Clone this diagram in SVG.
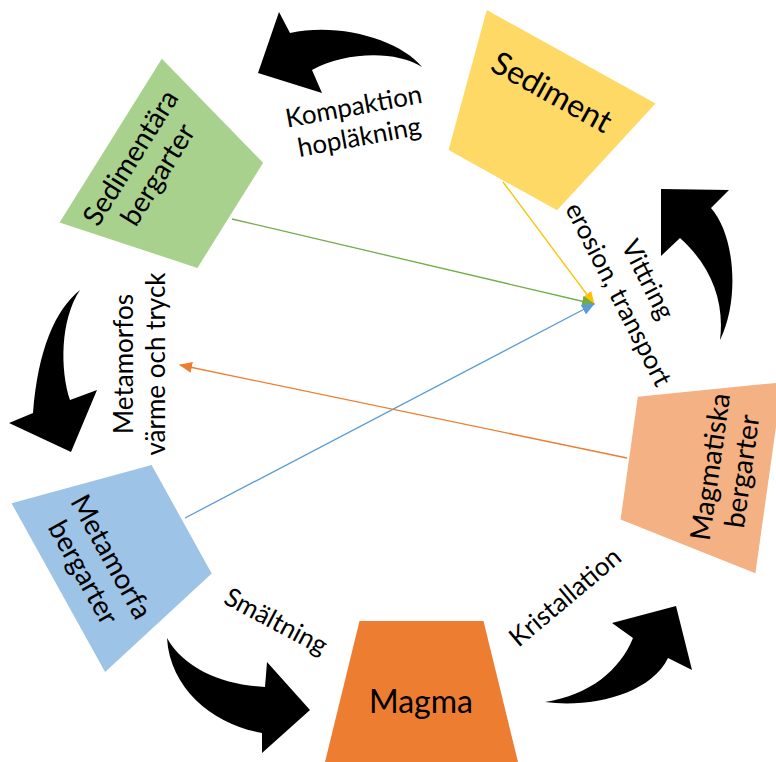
<svg xmlns="http://www.w3.org/2000/svg" width="776" height="762" viewBox="0 0 776 762">
<style>
text{font-family:Lato,"Liberation Sans",sans-serif;fill:#000;text-anchor:middle}
.node{font-size:28px}
.big{font-size:32px}
.lbl{font-size:26px}
.conn{fill:none;stroke-width:1.3}
.blk{fill:#000}
</style>
<defs>
<marker id="mY" markerUnits="userSpaceOnUse" markerWidth="13" markerHeight="11" refX="12" refY="5.5" orient="auto"><path d="M0,0 L13,5.5 L0,11 z" fill="#FFC000"/></marker>
<marker id="mG" markerUnits="userSpaceOnUse" markerWidth="13" markerHeight="11" refX="12" refY="5.5" orient="auto"><path d="M0,0 L13,5.5 L0,11 z" fill="#70AD47"/></marker>
<marker id="mB" markerUnits="userSpaceOnUse" markerWidth="13" markerHeight="11" refX="12" refY="5.5" orient="auto"><path d="M0,0 L13,5.5 L0,11 z" fill="#5B9BD5"/></marker>
<marker id="mO" markerUnits="userSpaceOnUse" markerWidth="13" markerHeight="11" refX="12" refY="5.5" orient="auto"><path d="M0,0 L13,5.5 L0,11 z" fill="#ED7D31"/></marker>
<polygon id="trap" points="-62,-70.5 62,-70.5 96.5,70.5 -96.5,70.5"/>
</defs>
<rect width="776" height="762" fill="#fff"/>

<g id="node-sediment">
<use href="#trap" transform="translate(537,118.5) rotate(-151)" fill="#FFD966"/>
<text class="big" transform="translate(552,92) rotate(29)" dy="0.35em">Sediment</text>
</g>
<g id="node-sedimentara">
<use href="#trap" transform="translate(170.5,178) rotate(122)" fill="#A9D18E"/>
<g transform="translate(144,166) rotate(-58)">
<text class="node" y="-16" dy="0.35em">Sedimentära</text>
<text class="node" y="16" dy="0.35em">bergarter</text>
</g>
</g>
<g id="node-metamorfa">
<use href="#trap" transform="translate(120,553.5) rotate(61)" fill="#9DC3E6"/>
<g transform="translate(97.5,564.5) rotate(61)">
<text class="node" y="-16" dy="0.35em">Metamorfa</text>
<text class="node" y="16" dy="0.35em">bergarter</text>
</g>
</g>
<g id="node-magma">
<use href="#trap" transform="translate(421.5,691.5)" fill="#ED7D31"/>
<text class="big" x="421" y="702" dy="0.35em">Magma</text>
</g>
<g id="node-magmatiska">
<use href="#trap" transform="translate(699,468) rotate(-82)" fill="#F4B183"/>
<g transform="translate(726,469) rotate(-82)">
<text class="node" y="-16" dy="0.35em">Magmatiska</text>
<text class="node" y="16" dy="0.35em">bergarter</text>
</g>
</g>

<g id="connectors">
<line class="conn" x1="503" y1="182" x2="594" y2="304" stroke="#FFC000" marker-end="url(#mY)"/>
<line class="conn" x1="232" y1="219" x2="594" y2="304" stroke="#70AD47" marker-end="url(#mG)"/>
<line class="conn" x1="185" y1="518" x2="594" y2="304" stroke="#5B9BD5" marker-end="url(#mB)"/>
<line class="conn" x1="627" y1="458" x2="180" y2="365" stroke="#ED7D31" marker-end="url(#mO)"/>
<path class="blk" d="M422,67 C400,40 340,22 290,33 L279,12 L258,73 L322,93 L312,70 C345,52 395,50 422,67 Z"/>
<path class="blk" d="M661,189 L729,190 L711,208 C735,235 740,300 720,340 C725,300 710,265 680,238 L661,256 Z"/>
<path class="blk" d="M80,290 C55,310 38,350 33,413 L9,423 L71,452 L97,390 L70,400 C60,370 60,320 80,290 Z"/>
<path class="blk" d="M167,638 C170,690 215,725 262,733 L262,753 L310,710 L267,662 L265,687 C225,685 185,670 167,638 Z"/>
<path class="blk" d="M545,702 C590,695 620,670 633,638 L612,623 L676,606 L692,670 L668,658 C650,695 590,708 545,702 Z"/>
</g>

<g id="labels">
<g transform="translate(356.5,122) rotate(-10.4)">
<text class="lbl" y="-16" dy="0.35em">Kompaktion</text>
<text class="lbl" y="15" dy="0.35em">hopläkning</text>
</g>
<g transform="translate(633,287) rotate(63)">
<text class="lbl" y="-17" dy="0.35em">Vittring</text>
<text class="lbl" y="16" dy="0.35em">erosion, transport</text>
</g>
<g transform="translate(140,364) rotate(-90)">
<text class="lbl" y="-16" dy="0.35em">Metamorfos</text>
<text class="lbl" y="16" dy="0.35em">värme och tryck</text>
</g>
<text class="lbl" transform="translate(276,621) rotate(28)" dy="0.35em">Smältning</text>
<text class="lbl" transform="translate(565,597) rotate(-40)" dy="0.35em">Kristallation</text>
</g>
</svg>
